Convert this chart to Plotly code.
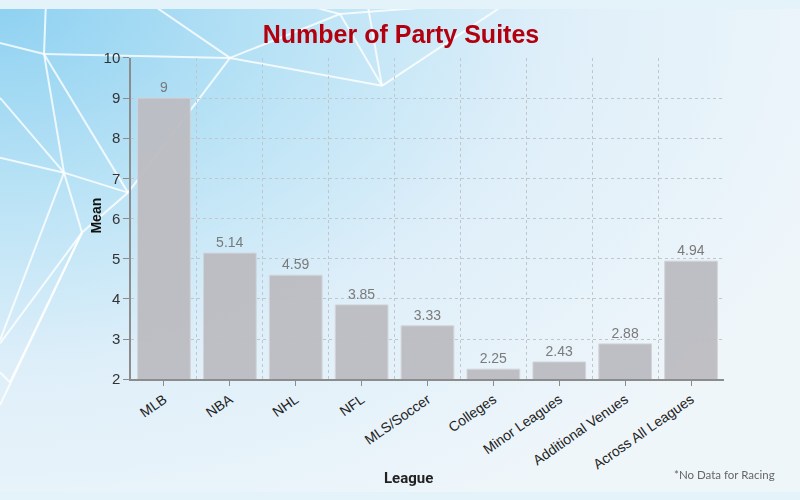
import plotly.graph_objects as go

# data
leagues = ["MLB", "NBA", "NHL", "NFL", "MLS/Soccer", "Colleges",
           "Minor Leagues", "Additional Venues", "Across All Leagues"]
mean_suites = [9, 5.14, 4.59, 3.85, 3.33, 2.25, 2.43, 2.88, 4.94]
value_labels = ["9", "5.14", "4.59", "3.85", "3.33", "2.25", "2.43", "2.88", "4.94"]
y_ticks = [2, 3, 4, 5, 6, 7, 8, 9, 10]

W, H = 800, 500
# the page shows the figure 484 px high starting 8 px down, so vertical
# positions below are given in target pixels and converted with fy()
OFF, RH = 8, 484
PX0, PX1, PY0, PY1 = 131, 724, 57, 379   # plot box in pixels


def fy(py):
    return 1 - (py - OFF) / RH


# white "network" lines in the background (pixels)
A, B, C, D = (44, 53), (230, 57), (340, 13), (382, 85)
E, F, G, Hn = (128, 192), (64, 172), (82, 232), (10, 382)
deco = [((46, 0), A), ((0, 42), A), (A, B), (A, E), (A, F), ((0, 97), F),
        ((0, 157), F), (F, E), (F, (0, 340)), (F, G), (G, E), (G, (0, 343)),
        (G, Hn), (Hn, (0, 372)), (G, (0, 405)), (B, E), (B, (147, 0)), (B, C),
        (B, D), (C, (510, 0)), (C, (290, 0)), (C, D), (D, (510, 0)), (D, (367, 0))]

deco_x, deco_y = [], []
for p, q in deco:
    deco_x += [p[0], q[0], None]
    deco_y += [p[1], q[1], None]

fig = go.Figure()

# background gradient, own subplot underneath everything
fig.add_trace(go.Scatter(
    x=[-900, 900, 900, -900, -900], y=[-600, -600, 600, 600, -600],
    xaxis="x", yaxis="y", mode="lines", fill="toself", line=dict(width=0),
    fillgradient=dict(type="radial", colorscale=[[0, "#8ed1f1"], [0.35, "#bde4f6"],
                                                 [0.62, "#dfeff9"], [1, "#eff6fa"]]),
    hoverinfo="skip", showlegend=False))
fig.add_trace(go.Scatter(
    x=deco_x, y=deco_y, xaxis="x", yaxis="y", mode="lines",
    line=dict(color="rgba(255,255,255,0.8)", width=2),
    hoverinfo="skip", showlegend=False))

fig.add_trace(go.Bar(
    x=leagues, y=mean_suites, xaxis="x2", yaxis="y2",
    width=0.8, opacity=0.95,
    marker=dict(color="#bcbcc1", line=dict(color="#d3d3d7", width=1)),
    text=value_labels, textposition="outside", cliponaxis=False,
    textfont=dict(family="Liberation Sans, Arial", size=14, color="#747474"),
    hoverinfo="x+y", showlegend=False))

# empty trace so the boundary grid axis gets drawn
fig.add_trace(go.Scatter(x=[], y=[], xaxis="x3", yaxis="y2", showlegend=False,
                         hoverinfo="skip"))

fig.update_layout(
    width=W, height=H, autosize=False,
    margin=dict(l=0, r=0, t=0, b=0),
    paper_bgcolor="#e4f2fa",
    plot_bgcolor="rgba(0,0,0,0)",
    xaxis=dict(domain=[0, 1], range=[0, W], visible=False, fixedrange=True),
    yaxis=dict(domain=[0, 1], range=[OFF + RH, OFF], visible=False, fixedrange=True),
    xaxis2=dict(domain=[PX0 / W, PX1 / W], anchor="y2", type="category",
                range=[-0.5, 8.5], showgrid=False, showline=True,
                linecolor="#8c8c8c", linewidth=1.5, ticks="outside", ticklen=5,
                tickcolor="#8c8c8c", tickangle=-35,
                tickfont=dict(family="Liberation Sans, Arial", size=14, color="#222222")),
    xaxis3=dict(overlaying="x2", anchor="y2", range=[-0.5, 8.5], tickmode="linear",
                tick0=0.5, dtick=1, showgrid=True, griddash="dot", gridcolor="#bfc6cc",
                gridwidth=1, showticklabels=False, ticks="", zeroline=False),
    yaxis2=dict(domain=[fy(PY1), fy(PY0)], anchor="x2", range=[2, 10],
                tickvals=y_ticks, showgrid=True, griddash="dot", gridcolor="#bfc6cc",
                gridwidth=1, zeroline=False, showline=True, linecolor="#8c8c8c",
                linewidth=1.5, ticks="outside", ticklen=6, tickcolor="#8c8c8c",
                tickfont=dict(family="Liberation Sans, Arial", size=15, color="#333333")),
    title=dict(text="Number of Party Suites", x=401 / W, xanchor="center",
               y=fy(41), yanchor="middle", yref="container",
               font=dict(family="Liberation Sans, Arial", size=25, color="#b3000f",
                         weight="bold")),
)

fig.add_annotation(text="Mean", xref="paper", yref="paper", x=86 / W, y=fy(215),
                   textangle=-90, showarrow=False, yanchor="middle",
                   font=dict(family="Liberation Sans, Arial", size=14, color="#111111",
                             weight="bold"))
fig.add_annotation(text="League", xref="paper", yref="paper", x=408 / W, y=fy(478),
                   showarrow=False, yanchor="middle",
                   font=dict(family="Roboto, Liberation Sans", size=15, color="#222222",
                             weight="bold"))
fig.add_annotation(text="*No Data for Racing", xref="paper", yref="paper",
                   x=777 / W, xanchor="right", y=fy(474), yanchor="middle",
                   showarrow=False,
                   font=dict(family="Lato, Liberation Sans", size=11.5, color="#666666"))

fig.write_html("out.html", config={"displayModeBar": False},
               post_script="document.body.style.margin='0';")
